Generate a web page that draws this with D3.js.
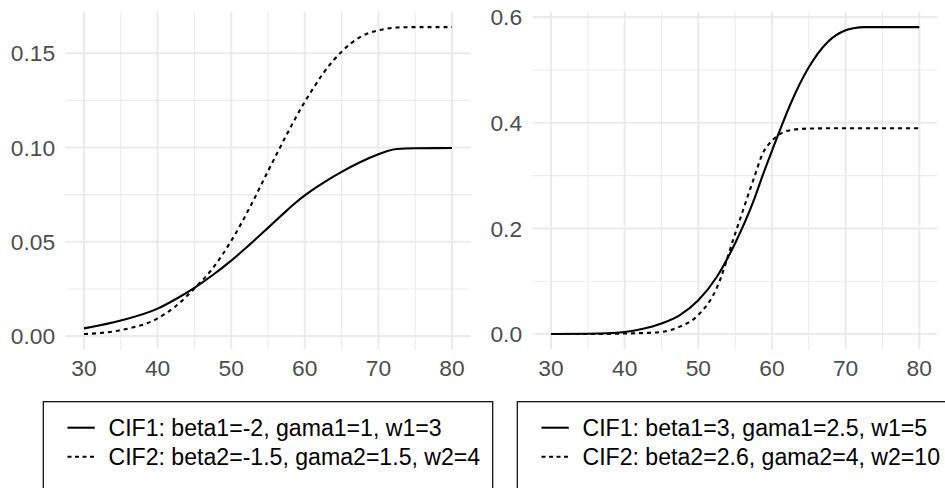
<!DOCTYPE html>
<html>
<head>
<meta charset="utf-8">
<script src="https://cdn.jsdelivr.net/npm/d3@7"></script>
<style>
  body { margin: 0; background: #fff; }
  text { font-family: "Liberation Sans", Arial, Helvetica, sans-serif; }
</style>
</head>
<body>
<script>
// ages
var ages = [30, 35, 40, 42.5, 45, 47.5, 50, 52.5, 55, 57.5, 58.75, 60, 61.25, 62.5, 65, 67.5, 70, 71.25, 72.5, 75, 80];

// left panel
var leftCif1 = [0.0041, 0.0083, 0.0146, 0.0197, 0.0256, 0.0324, 0.0400, 0.0485, 0.0574, 0.0664, 0.0707, 0.0746, 0.0781, 0.0813, 0.0871, 0.0922, 0.0964, 0.0982, 0.0992, 0.0996, 0.0997];
var leftCif2 = [0.0011, 0.0032, 0.0094, 0.016, 0.0253, 0.036, 0.0505, 0.068, 0.0875, 0.1065, 0.1157, 0.1242, 0.132, 0.1393, 0.1508, 0.1585, 0.1621, 0.1631, 0.1636, 0.1638, 0.1638];

// right panel
var rightCif1 = [0, 0.0005, 0.004, 0.010, 0.020, 0.036, 0.064, 0.108, 0.172, 0.252, 0.301, 0.347, 0.392, 0.435, 0.505, 0.552, 0.575, 0.5795, 0.581, 0.581, 0.581];
var rightCif2 = [0, 0, 0.001, 0.002, 0.004, 0.014, 0.036, 0.087, 0.19, 0.293, 0.342, 0.366, 0.380, 0.386, 0.389, 0.3895, 0.3896, 0.3896, 0.3896, 0.3896, 0.3896];

var xTicks = [30, 40, 50, 60, 70, 80];
var leftYTicks = [0, 0.05, 0.10, 0.15];
var rightYTicks = [0, 0.2, 0.4, 0.6];

var leftLabels = ["CIF1: beta1=-2, gama1=1, w1=3", "CIF2: beta2=-1.5, gama2=1.5, w2=4"];
var rightLabels = ["CIF1: beta1=3, gama1=2.5, w1=5", "CIF2: beta2=2.6, gama2=4, w2=10"];

var width = 945, height = 488;
var fontSize = 22.8;

var svg = d3.select("body").append("svg")
	.attr("width", width)
	.attr("height", height);

function panel(opt){
	var g = svg.append("g");

	var all = opt.s1.concat(opt.s2);
	var lo = d3.min(all), hi = d3.max(all), pad = (hi - lo) * 0.05;

	var x = d3.scaleLinear().domain([27.5, 82.5]).range([opt.left, opt.right]);
	var y = d3.scaleLinear().domain([lo - pad, hi + pad]).range([349.4, 11.8]);

	// minor grid
	var step = xTicks[1] - xTicks[0];
	var xMinor = xTicks.map(function(d){ return d + step / 2 }).filter(function(d){ return d < 82.5 });
	var ys = opt.yTicks[1] - opt.yTicks[0];
	var yMinor = opt.yTicks.map(function(d){ return d + ys / 2 }).filter(function(d){ return d < hi + pad });

	g.selectAll(".xminor").data(xMinor).enter().append("line")
		.attr("x1", x).attr("x2", x)
		.attr("y1", y.range()[0]).attr("y2", y.range()[1])
		.style("stroke", "#ebebeb").style("stroke-width", 1.1);
	g.selectAll(".yminor").data(yMinor).enter().append("line")
		.attr("y1", y).attr("y2", y)
		.attr("x1", opt.left).attr("x2", opt.right)
		.style("stroke", "#ebebeb").style("stroke-width", 1.1);

	// major grid
	g.selectAll(".xmajor").data(xTicks).enter().append("line")
		.attr("x1", x).attr("x2", x)
		.attr("y1", y.range()[0]).attr("y2", y.range()[1])
		.style("stroke", "#ebebeb").style("stroke-width", 2.1);
	g.selectAll(".ymajor").data(opt.yTicks).enter().append("line")
		.attr("y1", y).attr("y2", y)
		.attr("x1", opt.left).attr("x2", opt.right)
		.style("stroke", "#ebebeb").style("stroke-width", 2.1);

	// tick labels
	g.selectAll(".xlab").data(xTicks).enter().append("text")
		.attr("x", x).attr("y", 375.5)
		.attr("text-anchor", "middle")
		.style("font-size", fontSize + "px").style("fill", "#4d4d4d")
		.text(function(d){ return d });
	g.selectAll(".ylab").data(opt.yTicks).enter().append("text")
		.attr("x", opt.left - 10.5)
		.attr("y", function(d){ return y(d) + 8.2 })
		.attr("text-anchor", "end")
		.style("font-size", fontSize + "px").style("fill", "#4d4d4d")
		.text(d3.format(opt.fmt));

	var line = d3.line()
		.x(function(d, i){ return x(ages[i]) })
		.y(function(d){ return y(d) })
		.curve(d3.curveMonotoneX);

	g.append("path").datum(opt.s1)
		.attr("d", line)
		.style("fill", "none").style("stroke", "#000").style("stroke-width", 2.1);
	g.append("path").datum(opt.s2)
		.attr("d", line)
		.style("fill", "none").style("stroke", "#000").style("stroke-width", 2.1)
		.style("stroke-dasharray", "4,4");

	// legend
	var lg = svg.append("g").attr("transform", "translate(" + opt.boxX + ",401.7)");
	lg.append("rect")
		.attr("x", 0).attr("y", 0)
		.attr("width", opt.boxW).attr("height", 120)
		.style("fill", "#fff").style("stroke", "#000").style("stroke-width", 1.2);

	var rows = lg.selectAll(".row").data(opt.labels).enter().append("g")
		.attr("transform", function(d, i){ return "translate(0," + (26 + i * 29) + ")" });
	rows.append("line")
		.attr("x1", 24.2).attr("x2", 51.5)
		.attr("y1", 0).attr("y2", 0)
		.style("stroke", "#000").style("stroke-width", 2.1)
		.style("stroke-dasharray", function(d, i){ return i ? "4,3.5" : null });
	rows.append("text")
		.attr("x", 65.2).attr("y", 8.3)
		.style("font-size", "23.1px").style("fill", "#000")
		.text(function(d){ return d });
}

panel({ left: 65.6, right: 470.4, s1: leftCif1, s2: leftCif2, yTicks: leftYTicks, fmt: ".2f",
	labels: leftLabels, boxX: 43.3, boxW: 449.4 });
panel({ left: 532.6, right: 937.7, s1: rightCif1, s2: rightCif2, yTicks: rightYTicks, fmt: ".1f",
	labels: rightLabels, boxX: 517.3, boxW: 440 });
</script>
</body>
</html>
